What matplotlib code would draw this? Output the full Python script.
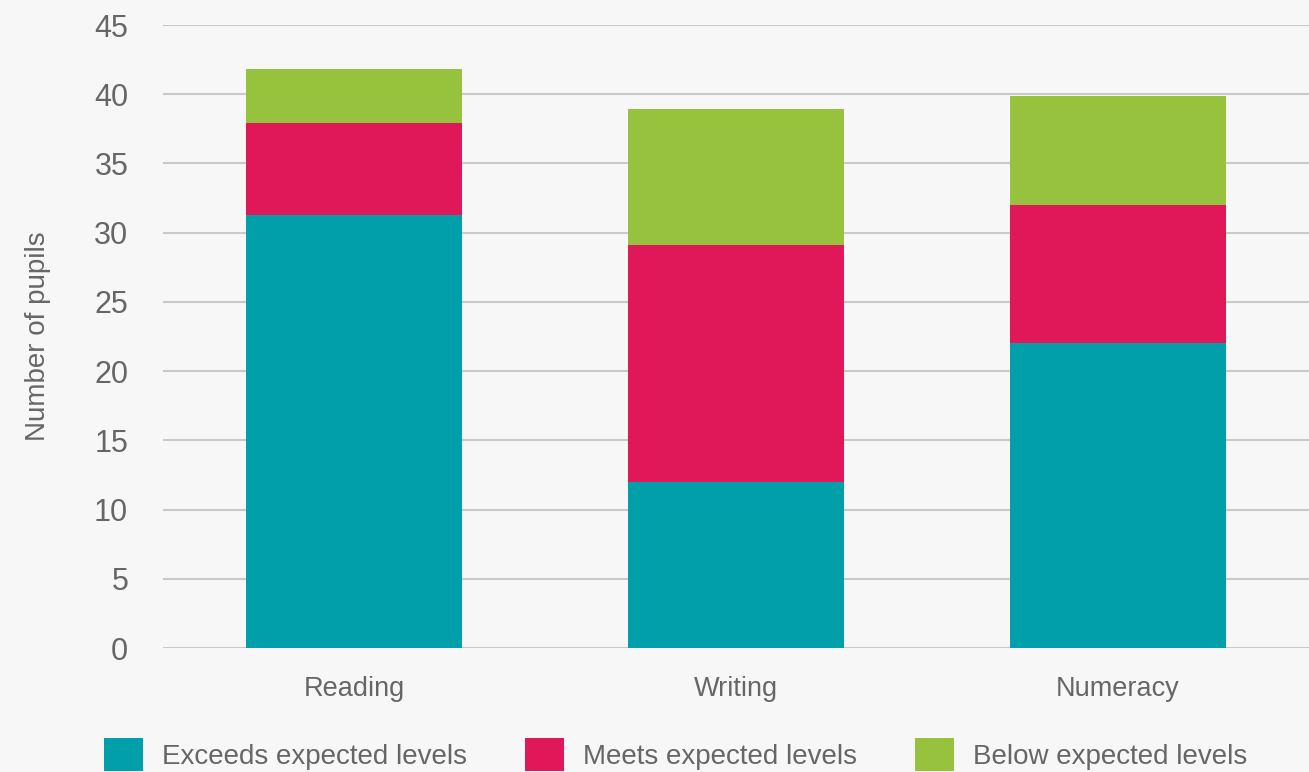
import matplotlib
matplotlib.use("Agg")
import matplotlib.pyplot as plt
from matplotlib.patches import Patch

categories = ["Reading", "Writing", "Numeracy"]
exceeds = [31.3, 12, 22]
meets = [6.6, 17.1, 10]
below = [3.9, 9.8, 7.9]
series_names = ["Exceeds expected levels", "Meets expected levels", "Below expected levels"]
colors = ["#009fa9", "#e0185a", "#97c23d"]
yticks = [0, 5, 10, 15, 20, 25, 30, 35, 40, 45]

plt.rcParams['font.family'] = ['Liberation Sans', 'DejaVu Sans']
text_color = "#666666"
bg = "#f7f7f7"

fig = plt.figure(figsize=(13.09, 7.72), dpi=100, facecolor=bg)
ax = fig.add_axes([0.1245, 0.1606, 0.8755, 0.807])
ax.set_facecolor(bg)

x = list(range(len(categories)))
w = 0.565
ax.bar(x, exceeds, width=w, color=colors[0], zorder=3)
ax.bar(x, meets, width=w, bottom=exceeds, color=colors[1], zorder=3)
bottom3 = [a + b for a, b in zip(exceeds, meets)]
ax.bar(x, below, width=w, bottom=bottom3, color=colors[2], zorder=3)

ax.set_xlim(-0.5, len(categories) - 0.5)
ax.set_ylim(0, 45)
ax.set_yticks(yticks)
ax.set_xticks(x)
ax.set_xticklabels(categories)
ax.yaxis.grid(True, color="#c9c9c9", linewidth=1.5, zorder=0)
ax.set_axisbelow(True)
for s in ax.spines.values():
    s.set_visible(False)
ax.tick_params(axis='both', length=0, colors=text_color)
ax.tick_params(axis='y', labelsize=22, pad=25)
ax.tick_params(axis='x', labelsize=19.5, pad=20)
ax.set_ylabel("Number of pupils", fontsize=20, color=text_color)
ax.yaxis.set_label_coords(-0.098, 0.5)

handles = [Patch(facecolor=c, edgecolor='none') for c in colors]
leg = fig.legend(handles, series_names, loc='upper left', bbox_to_anchor=(0.0795, 0.044),
                 ncol=3, frameon=False, fontsize=20, handlelength=1.4, handleheight=1.45,
                 handletextpad=0.68, columnspacing=2.1, borderaxespad=0, borderpad=0)
for t in leg.get_texts():
    t.set_color(text_color)

fig.savefig("out.png", dpi=100, facecolor=bg)
